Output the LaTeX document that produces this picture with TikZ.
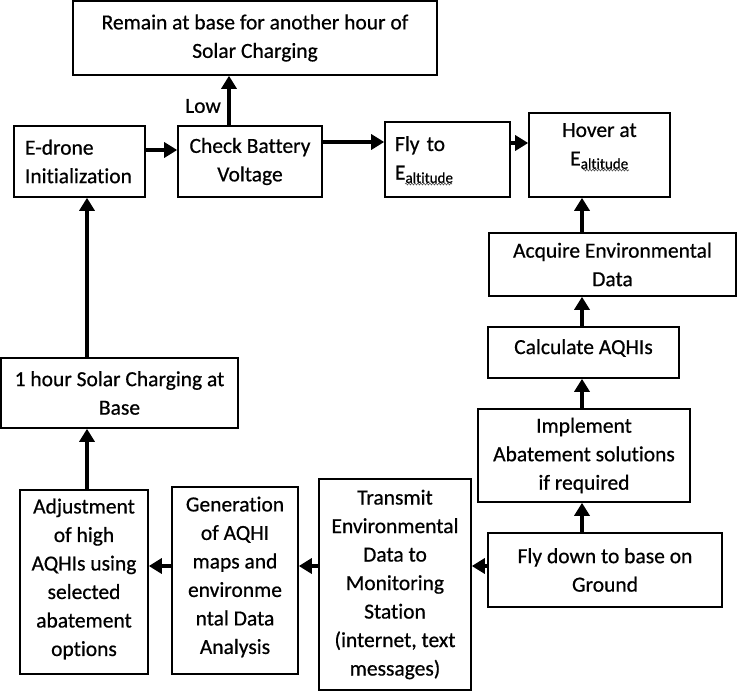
\documentclass[tikz,border=0pt]{standalone}
\usepackage{fontspec}
\setmainfont[Ligatures={NoCommon}, FakeBold=0.6]{Carlito}
\usetikzlibrary{arrows.meta,decorations.pathmorphing}
\newcommand\diagfont{\fontsize{21.5}{28.5}\selectfont}
\newcommand\Ealt{E\textsubscript{altitude}}
\begin{document}
\begin{tikzpicture}[x=1pt,y=-1pt,
  box/.style={draw, line width=1.6pt, inner sep=0pt, align=center, font=\diagfont},
  txt/.style={inner sep=0pt, align=center, font=\diagfont},
  arr/.style={line width=3.6pt, -{Triangle[length=13pt,width=15pt]}},
  wavy/.style={draw=black!70, line width=0.6pt, decorate, decoration={snake, amplitude=0.9pt, segment length=3pt}}]
\fill[white] (0,0) rectangle (738,693);
\useasboundingbox (0,0) rectangle (738,693);

% top row
\node[box, minimum width=364pt, minimum height=74pt] (remain) at (255,38) {Remain at base for another hour of\\Solar Charging};
\node[box, minimum width=131pt, minimum height=71pt, text width=109pt, align=left] (edrone) at (79.5,161.5) {E-drone\\Initialization};
\node[box, minimum width=144pt, minimum height=71pt] (check) at (250,161.5) {Check Battery\\Voltage};
\node[box, minimum width=125pt, minimum height=75pt, text width=105pt, align=left] (fly) at (447.5,159.5) {Fly to\\\Ealt};
\node[box, minimum width=141pt, minimum height=84pt] (hover) at (599.5,155) {};
\node[txt] (hovertext) at (599.5,146) {Hover at\\\Ealt};
\node[txt] (low) at (203,106) {Low};

% right column
\node[box, minimum width=247pt, minimum height=63pt] (acquire) at (612.5,264.5) {Acquire Environmental\\Data};
\node[box, minimum width=191pt, minimum height=51pt] (calc) at (583.5,352.5) {};
\node[txt] (calctext) at (583.5,348) {Calculate AQHIs};
\node[box, minimum width=212pt, minimum height=93pt] (implement) at (584,455.5) {Implement\\Abatement solutions\\if required};
\node[box, minimum width=234pt, minimum height=74pt] (flydown) at (605,570) {Fly down to base on\\Ground};

% bottom row
\node[box, minimum width=152pt, minimum height=211pt] (transmit) at (395,584.5) {Transmit\\Environmental\\Data to\\Monitoring\\Station\\(internet, text\\messages)};
\node[box, minimum width=126pt, minimum height=187pt] (generation) at (235,580.5) {};
\node[txt] (gentext) at (235,577) {Generation\\of AQHI\\maps and\\environme\\ntal Data\\Analysis};
\node[box, minimum width=128pt, minimum height=184pt] (adjust) at (84,582) {};
\node[txt] (adjtext) at (84,579) {Adjustment\\of high\\AQHIs using\\selected\\abatement\\options};
\node[box, minimum width=237pt, minimum height=70pt] (onehour) at (119.5,393) {1 hour Solar Charging at\\Base};

% spell-check underlines
\path[wavy] (405,184) -- (452,184);
\path[wavy] (583,170) -- (629,170);

% connector guides
\coordinate (xleft) at (87,0);
\coordinate (xright) at (582,0);
\coordinate (xlow) at (229,0);
\coordinate (yA) at (0,150);
\coordinate (yB) at (0,142);
\coordinate (yC) at (0,143);
\coordinate (yD) at (0,566);

\draw[arr] (edrone.east |- yA) -- (check.west |- yA);
\draw[arr] (check.east |- yB) -- (fly.west |- yB);
\draw[arr] (fly.east |- yC) -- (hover.west |- yC);
\draw[arr] (check.north -| xlow) -- (remain.south -| xlow);
\draw[arr] (onehour.north -| xleft) -- (edrone.south -| xleft);
\draw[arr] (adjust.north -| xleft) -- (onehour.south -| xleft);
\draw[arr] (acquire.north -| xright) -- (hover.south -| xright);
\draw[arr] (calc.north -| xright) -- (acquire.south -| xright);
\draw[arr] (implement.north -| xright) -- (calc.south -| xright);
\draw[arr] (flydown.north -| xright) -- (implement.south -| xright);
\draw[arr] (flydown.west |- yD) -- (transmit.east |- yD);
\draw[arr] (transmit.west |- yD) -- (generation.east |- yD);
\draw[arr] (generation.west |- yD) -- (adjust.east |- yD);
\end{tikzpicture}
\end{document}
